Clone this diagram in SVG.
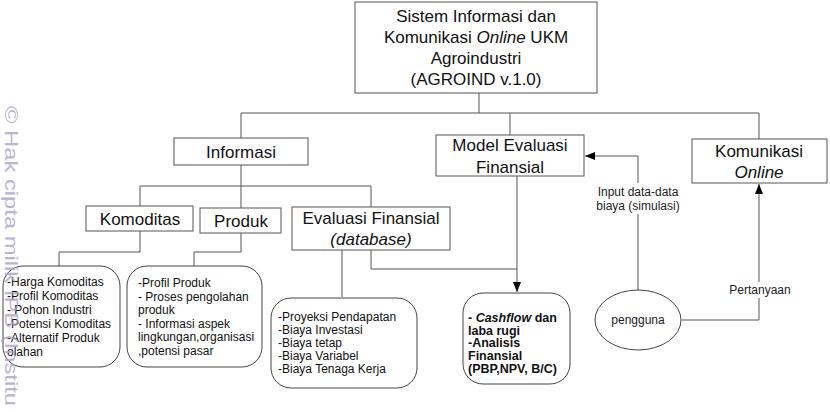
<svg xmlns="http://www.w3.org/2000/svg" width="830" height="412" viewBox="0 0 830 412">
<defs>
<style>
.box{fill:#fff;stroke:#555;stroke-width:1}
.rbox{fill:#fff;stroke:#444;stroke-width:1}
.lbl{font-family:"Liberation Sans",Arial,sans-serif;font-size:17px;fill:#111;text-anchor:middle}
.sm{font-family:"Liberation Sans",Arial,sans-serif;font-size:12px;fill:#111}
.smc{font-family:"Liberation Sans",Arial,sans-serif;font-size:12px;fill:#222;text-anchor:middle}
.bd{font-family:"Liberation Sans",Arial,sans-serif;font-size:12.5px;font-weight:bold;fill:#111}
.ln{fill:none;stroke:#555;stroke-width:1}
.wm{font-family:"Liberation Sans",Arial,sans-serif;font-size:19px;fill:#a9a2c8}
</style>
<marker id="arr" markerWidth="10" markerHeight="8" refX="10" refY="4" orient="auto" markerUnits="userSpaceOnUse">
<path d="M0,0 L10,4 L0,8 Z" fill="#000"/>
</marker>
</defs>
<rect width="830" height="412" fill="#fff"/>

<g id="connectors">
<path class="ln" d="M479,93 V113 M241,113 H759 M241,113 V138 M510,113 V135 M759,113 V139"/>
<path class="ln" d="M241,165 V186" stroke="#222"/>
<path class="ln" d="M140,186 H371 M140,186 V206 M241,186 V208 M371,186 V207"/>
<path class="ln" d="M140,231 V252 H59 V266"/>
<path class="ln" d="M241,233 V252 H194 V266"/>
<path class="ln" d="M342,250 V297"/>
<path class="ln" d="M371,250 V269 H517"/>
<path class="ln" d="M517,176 V292" marker-end="url(#arr)"/>
<path class="ln" d="M638,290 V156 H585" marker-end="url(#arr)"/>
<path class="ln" d="M682,320 H759 V184" marker-end="url(#arr)"/>
<rect x="597" y="183" width="83" height="31" fill="#fff"/>
<text class="smc" x="638" y="196">Input data-data</text>
<text class="smc" x="638" y="210">biaya (simulasi)</text>
<rect x="729" y="282" width="62" height="16" fill="#fff"/>
<text class="smc" x="760" y="294">Pertanyaan</text>
</g>

<g id="root">
<rect class="box" x="355" y="2" width="242" height="91"/>
<text class="lbl" x="476" y="22">Sistem Informasi dan</text>
<text class="lbl" x="476" y="43">Komunikasi <tspan font-style="italic">Online</tspan> UKM</text>
<text class="lbl" x="476" y="64">Agroindustri</text>
<text class="lbl" x="476" y="85">(AGROIND v.1.0)</text>
</g>

<g id="informasi">
<rect class="box" x="174" y="138" width="134" height="27"/>
<text class="lbl" x="241" y="158">Informasi</text>
</g>

<g id="model">
<rect class="box" x="436" y="135" width="148" height="41"/>
<text class="lbl" x="510" y="151">Model Evaluasi</text>
<text class="lbl" x="510" y="173">Finansial</text>
</g>

<g id="komunikasi">
<rect class="box" x="692" y="139" width="135" height="44"/>
<text class="lbl" x="759" y="157">Komunikasi</text>
<text class="lbl" x="759" y="178" font-style="italic">Online</text>
</g>

<g id="komoditas">
<rect class="box" x="86" y="206" width="107" height="25"/>
<text class="lbl" x="140" y="225">Komoditas</text>
</g>

<g id="produk">
<rect class="box" x="200" y="208" width="81" height="25"/>
<text class="lbl" x="241" y="227">Produk</text>
</g>

<g id="evaluasi">
<rect class="box" x="292" y="207" width="158" height="43"/>
<text class="lbl" x="371" y="224">Evaluasi Finansial</text>
<text class="lbl" x="371" y="245" font-style="italic">(database)</text>
</g>

<g id="list-komoditas">
<rect class="rbox" x="3" y="266" width="117" height="101" rx="20"/>
<text class="sm" x="7" y="286">-Harga Komoditas</text>
<text class="sm" x="7" y="300">-Profil Komoditas</text>
<text class="sm" x="7" y="314">- Pohon Industri</text>
<text class="sm" x="7" y="328">-Potensi Komoditas</text>
<text class="sm" x="7" y="342">-Alternatif Produk</text>
<text class="sm" x="7" y="356">olahan</text>
</g>

<g id="list-produk">
<rect class="rbox" x="127" y="266" width="135" height="101" rx="20"/>
<text class="sm" x="138" y="287">-Profil Produk</text>
<text class="sm" x="138" y="300.5">- Proses pengolahan</text>
<text class="sm" x="138" y="314">produk</text>
<text class="sm" x="138" y="327.5">- Informasi aspek</text>
<text class="sm" x="138" y="341">lingkungan,organisasi</text>
<text class="sm" x="138" y="354.5">,potensi pasar</text>
</g>

<g id="list-evaluasi">
<rect class="rbox" x="271" y="298" width="146" height="90" rx="20"/>
<text class="sm" x="278" y="321">-Proyeksi Pendapatan</text>
<text class="sm" x="278" y="334">-Biaya Investasi</text>
<text class="sm" x="278" y="347">-Biaya tetap</text>
<text class="sm" x="278" y="360">-Biaya Variabel</text>
<text class="sm" x="278" y="373">-Biaya Tenaga Kerja</text>
</g>

<g id="list-cashflow">
<rect class="rbox" x="463" y="293" width="107" height="91" rx="20"/>
<text class="bd" x="468" y="322">- <tspan font-style="italic">Cashflow</tspan> dan</text>
<text class="bd" x="468" y="334.5">laba rugi</text>
<text class="bd" x="468" y="347">-Analisis</text>
<text class="bd" x="468" y="360">Finansial</text>
<text class="bd" x="468" y="373">(PBP,NPV, B/C)</text>
</g>

<g id="pengguna">
<ellipse class="rbox" cx="638" cy="320" rx="43" ry="30"/>
<text class="smc" x="638" y="324">pengguna</text>
</g>

<g id="watermark" opacity="0.8">
<text class="wm" transform="translate(5,106) rotate(90)" textLength="300" lengthAdjust="spacingAndGlyphs">© Hak cipta milik IPB (Institu</text>
</g>
</svg>
